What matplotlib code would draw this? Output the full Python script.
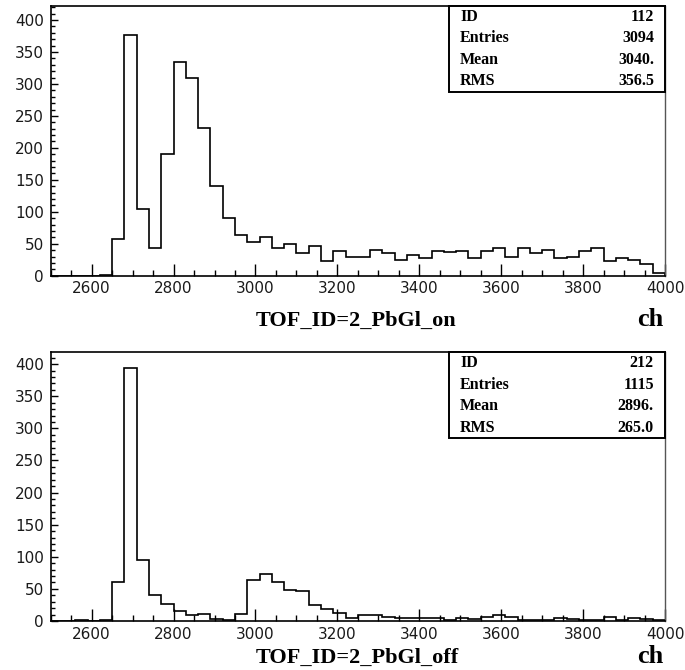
import numpy as np
import matplotlib
matplotlib.use("Agg")
import matplotlib.pyplot as plt
from matplotlib.patches import Rectangle
from matplotlib.ticker import MultipleLocator

# histogram binning (channels)
bin_lo = 2500
bin_hi = 4000
bin_width = 30

# counts per bin, TOF_ID=2 with PbGl on
counts_on = [0, 0, 0, 0, 1, 58, 377, 105, 44, 191,
             334, 310, 231, 141, 90, 63, 52, 60, 44, 49,
             36, 46, 23, 38, 30, 29, 40, 36, 24, 32,
             27, 39, 37, 38, 28, 38, 44, 29, 44, 36,
             40, 28, 30, 38, 43, 23, 27, 24, 18, 5]

# counts per bin, TOF_ID=2 with PbGl off
counts_off = [0, 0, 2, 0, 1, 61, 394, 95, 40, 26,
              16, 9, 11, 3, 1, 11, 64, 73, 60, 49,
              47, 25, 18, 13, 5, 9, 9, 6, 4, 5,
              5, 4, 2, 5, 3, 6, 9, 6, 2, 1,
              2, 5, 3, 1, 1, 6, 1, 4, 3, 1]

stat_names = ["ID", "Entries", "Mean", "RMS"]
stats_on = ["112", "3094", "3040.", "356.5"]
stats_off = ["212", "1115", "2896.", "265.0"]

titles = ["TOF_ID=2_PbGl_on", "TOF_ID=2_PbGl_off"]
unit = "ch"

W, H = 685, 670
fig = plt.figure(figsize=(W / 100, H / 100), dpi=100)

serif = "Liberation Serif"


def px_axes(left, top, right, bottom):
    return [left / W, 1 - bottom / H, (right - left) / W, (bottom - top) / H]


def draw_panel(rect, counts, stats, title, ymax, title_base):
    ax = fig.add_axes(px_axes(*rect))
    edges = np.arange(bin_lo, bin_hi + 1, bin_width)
    ax.stairs(counts, edges, color="black", linewidth=1.2)
    ax.set_xlim(bin_lo, bin_hi)
    ax.set_ylim(0, ymax)

    ax.xaxis.set_major_locator(MultipleLocator(200))
    ax.xaxis.set_minor_locator(MultipleLocator(50))
    ax.yaxis.set_major_locator(MultipleLocator(50))
    ax.yaxis.set_minor_locator(MultipleLocator(10))
    ax.tick_params(which="both", direction="in", top=False, right=False,
                   labelsize=11, colors="black")
    ax.tick_params(axis="x", which="major", length=8.5, width=1, pad=4)
    ax.tick_params(axis="x", which="minor", length=4, width=1)
    ax.tick_params(axis="y", which="major", length=5, width=1, pad=5)
    ax.tick_params(axis="y", which="minor", length=3, width=1)
    for lab in ax.get_xticklabels() + ax.get_yticklabels():
        lab.set_color("#1a1a1a")
    for s in ["left", "bottom", "top"]:
        ax.spines[s].set_linewidth(1.2)
    ax.spines["right"].set_color("#555555")
    ax.spines["right"].set_linewidth(1.0)

    # statistics box, upper right corner
    hpx = rect[3] - rect[1]
    wpx = rect[2] - rect[0]
    box_w, box_h = 216 / wpx, 86 / hpx
    ax.add_patch(Rectangle((1 - box_w, 1 - box_h), box_w, box_h,
                           transform=ax.transAxes, fill=True,
                           facecolor="white", edgecolor="black",
                           linewidth=1.4, zorder=5, clip_on=False))
    for i, (name, val) in enumerate(zip(stat_names, stats)):
        y = 1 - (10.75 + 21.5 * i) / hpx
        ax.text(1 - box_w + 11 / wpx, y, name, transform=ax.transAxes,
                ha="left", va="center", family=serif, weight="bold",
                fontsize=11.5, zorder=6)
        ax.text(1 - 11 / wpx, y, val, transform=ax.transAxes,
                ha="right", va="center", family=serif, weight="bold",
                fontsize=11.5, zorder=6)

    fig.text(256 / W, 1 - title_base / H, title, ha="left", va="baseline",
             family=serif, weight="bold", fontsize=16)
    fig.text(663 / W, 1 - title_base / H, unit, ha="right", va="baseline",
             family=serif, weight="bold", fontsize=19)
    return ax


draw_panel((50.7, 6, 665, 275.7), counts_on, stats_on, titles[0], 422, 326)
draw_panel((50.7, 352.3, 665, 621), counts_off, stats_off, titles[1], 418.5, 663)

fig.savefig("out.png", dpi=100, facecolor="white")
